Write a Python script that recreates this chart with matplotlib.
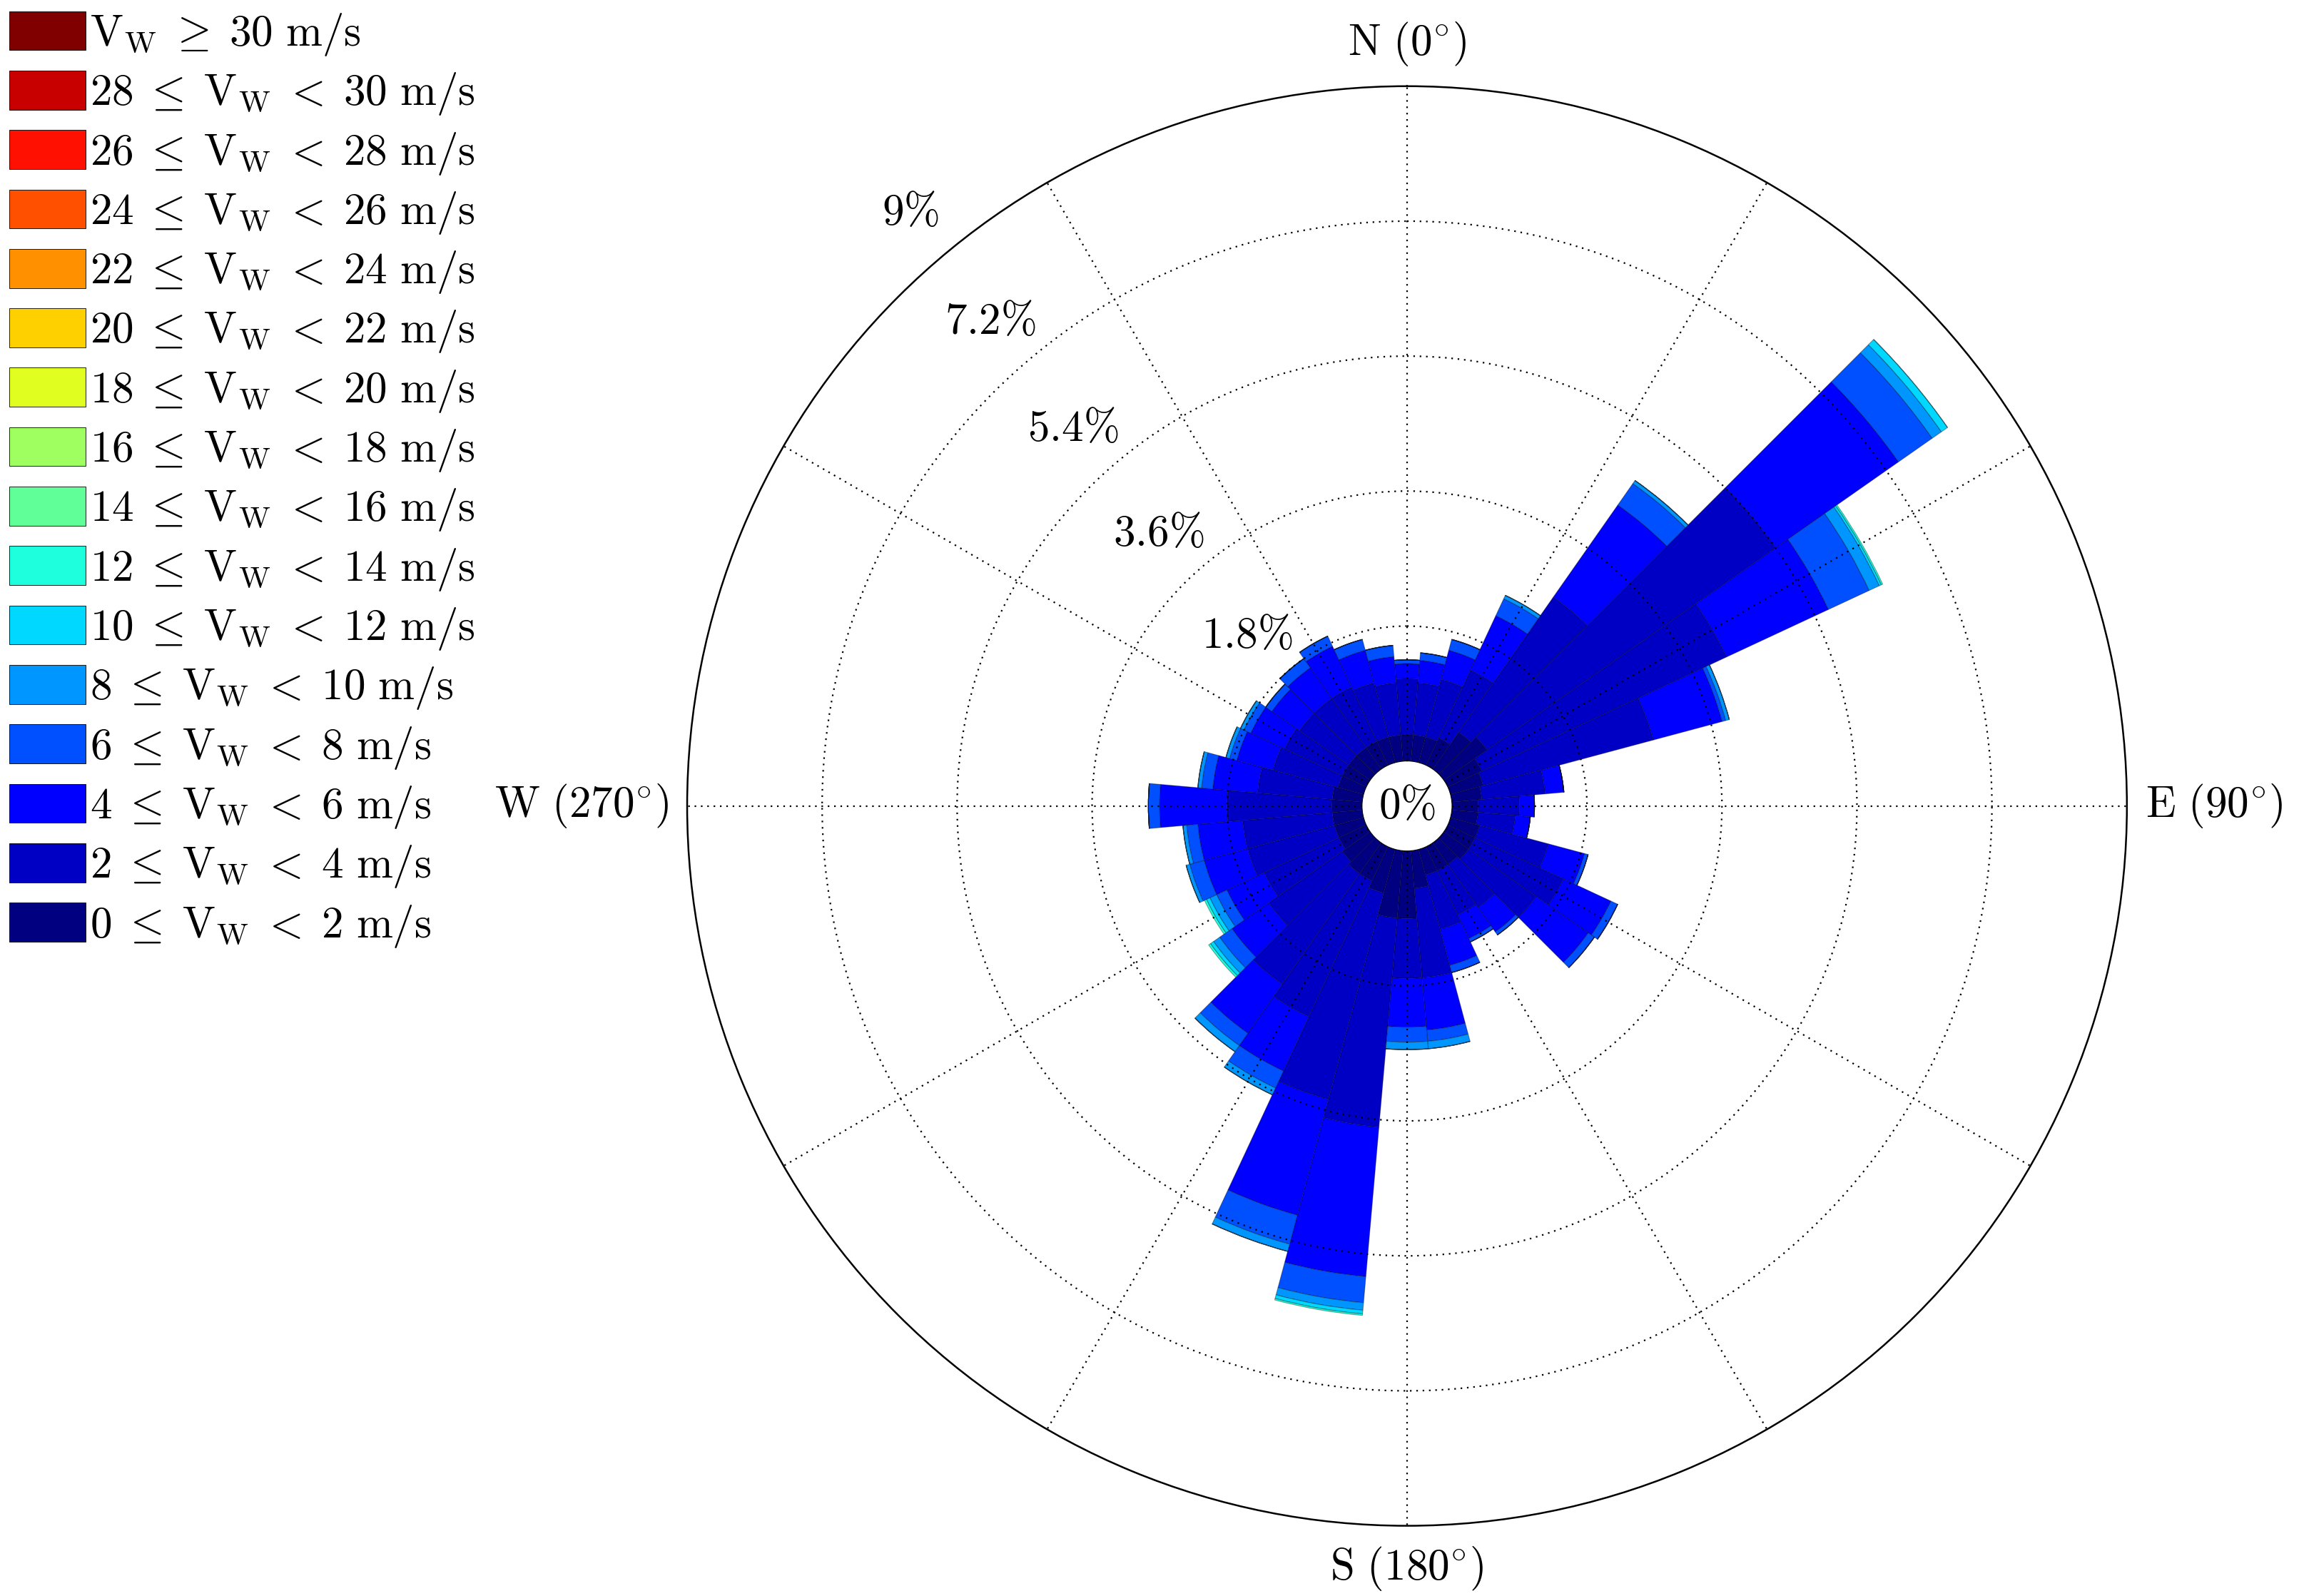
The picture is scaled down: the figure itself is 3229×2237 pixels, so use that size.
import numpy as np
import matplotlib
matplotlib.use("Agg")
import matplotlib.pyplot as plt
from matplotlib.patches import Patch

plt.rcParams['mathtext.fontset'] = 'cm'
plt.rcParams['font.family'] = ['DejaVu Serif']

# wind directions (deg), 10 degree sectors
directions = np.arange(0, 360, 10)

# frequency (%) per speed bin, one value per direction
v_0_2 = [.35, .35, .35, .40, .60, .70, .50, .45, .40, .35, .35, .40, .40, .40, .35, .35, .35, .50,
         .90, .90, .60, .50, .50, .45, .40, .40, .40, .40, .40, .35, .35, .35, .35, .35, .35, .35]
v_2_4 = [.75, .70, .80, 1.0, 2.2, 4.7, 3.6, 2.35, .85, .55, .50, .95, 1.3, 1.1, .70, .65, .75, 1.2,
         .80, 2.8, 2.85, 2.0, 1.8, 1.2, 1.1, 1.2, 1.2, 1.4, 1.0, .90, .85, .80, .80, .80, .75, .70]
v_4_6 = [.20, .30, .40, .80, 1.5, 2.0, 1.5, .95, .25, .20, .20, .50, .70, .85, .40, .35, .50, .70,
         .65, 2.0, 1.6, .80, .80, .60, .55, .60, .60, .90, .60, .50, .50, .45, .50, .60, .45, .35]
v_6_8 = [.05, .10, .15, .25, .35, .55, .60, .05, 0, 0, 0, .05, .10, .10, .05, .05, .10, .15,
         .20, .35, .40, .25, .20, .20, .15, .20, .15, .15, .15, .10, .10, .10, .15, .15, .15, .15]
v_8_10 = [0, 0, 0, .05, .05, .15, .15, .05, 0, 0, 0, 0, 0, 0, 0, 0, 0, .10,
          .10, .10, .10, .10, .10, .10, .10, .05, .05, 0, .05, .05, .05, 0, 0, 0, 0, 0]
v_10_12 = [0, 0, 0, 0, 0, .10, .03, 0, 0, 0, 0, 0, 0, 0, 0, 0, 0, 0,
           0, .05, 0, 0, 0, .05, .05, 0, 0, 0, 0, 0, 0, 0, 0, 0, 0, 0]
v_12_14 = [0, 0, 0, 0, 0, 0, .02, 0, 0, 0, 0, 0, 0, 0, 0, 0, 0, 0,
           0, .02, 0, 0, 0, .03, .03, 0, 0, 0, 0, 0, 0, 0, 0, 0, 0, 0]

speed_bins = [v_0_2, v_2_4, v_4_6, v_6_8, v_8_10, v_10_12, v_12_14]

bin_colors = ['#000080', '#0000c4', '#0000ff', '#0050ff', '#0096ff', '#00d8ff', '#1effde',
              '#60ff98', '#a0ff60', '#e0ff20', '#ffd000', '#ff9000', '#ff5000', '#ff1000',
              '#c80000', '#800000']
bin_edges = list(range(0, 32, 2))

ring_values = [1.8, 3.6, 5.4, 7.2, 9]
cardinals = [(0, r'$\mathrm{N}\ (0^{\circ})$'), (90, r'$\mathrm{E}\ (90^{\circ})$'),
             (180, r'$\mathrm{S}\ (180^{\circ})$'), (270, r'$\mathrm{W}\ (270^{\circ})$')]

fig = plt.figure(figsize=(32.3, 22.37), dpi=100)
ax = fig.add_axes([0.298, 0.044, 0.625, 0.902], projection='polar')
ax.set_theta_zero_location('N')
ax.set_theta_direction(-1)
ax.set_rorigin(-0.6)
ax.set_ylim(0, 9)

theta = np.deg2rad(directions)
bottom = np.zeros(len(directions))
for vals, col in zip(speed_bins, bin_colors):
    vals = np.array(vals)
    ax.bar(theta, vals, width=np.deg2rad(10), bottom=bottom, color=col,
           edgecolor=(0, 0, 0, 0.35), linewidth=0.8, zorder=2)
    bottom += vals

# grid
ax.set_axisbelow(False)
ax.set_xticks(np.deg2rad(np.arange(0, 360, 30)))
ax.set_xticklabels([])
ax.set_yticks(ring_values[:-1])
ax.set_yticklabels([])
ax.grid(True, linestyle=(0, (1, 3)), color='k', linewidth=1.6, zorder=3)
ax.spines['polar'].set_linewidth(1.8)

align = {0: ('center', 'bottom'), 90: ('left', 'center'),
         180: ('center', 'top'), 270: ('right', 'center')}
for d, lab in cardinals:
    ha, va = align[d]
    ax.text(np.deg2rad(d), 9.25, lab, fontsize=44, ha=ha, va=va, clip_on=False)

for rv in ring_values:
    lab = f'{rv:g}%'.replace('%', r'\%')
    ax.text(np.deg2rad(316 + 0.45 * rv), rv + 0.72, '$' + lab + '$', fontsize=44,
            ha='center', va='center', zorder=5)
ax.text(0.5, 0.5, r'$0\%$', transform=ax.transAxes, fontsize=44,
        ha='center', va='center', zorder=5)

# legend, highest speed on top
handles = []
leg_labels = []
for i in range(len(bin_colors) - 1, -1, -1):
    handles.append(Patch(facecolor=bin_colors[i], edgecolor='k', linewidth=0.6))
    lo = bin_edges[i]
    if i == len(bin_colors) - 1:
        leg_labels.append(r'$\mathrm{V_W}\;\geq\;%d\ \mathrm{m/s}$' % lo)
    else:
        leg_labels.append(r'$%d\;\leq\;\mathrm{V_W}\;<\;%d\ \mathrm{m/s}$' % (lo, lo + 2))
fig.legend(handles, leg_labels, loc='upper left', bbox_to_anchor=(0.004, 0.993),
           frameon=False, fontsize=44, handlelength=1.75, handleheight=1.0,
           handletextpad=0.1, labelspacing=0.295, borderpad=0, borderaxespad=0)

fig.savefig('out.png', dpi=100, facecolor='white')
